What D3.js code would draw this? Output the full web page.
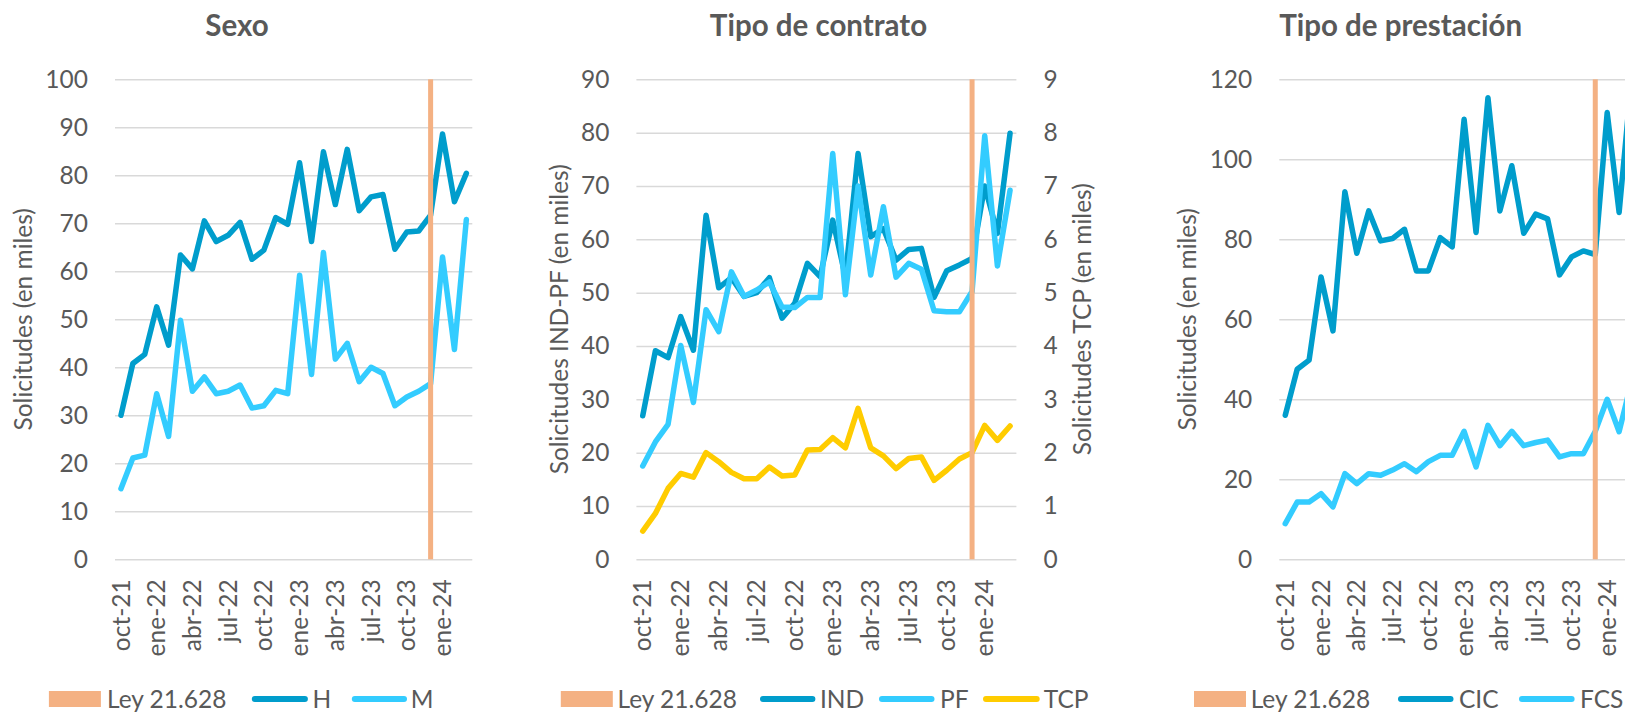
<!DOCTYPE html>
<html>
<head>
<meta charset="utf-8">
<script src="https://cdn.jsdelivr.net/npm/d3@7"></script>
<style>
body { margin: 0; background: #fff; overflow: hidden; }
text { font-family: Lato, 'Open Sans', sans-serif; fill: #595959; }
.tick text { font-size: 24.5px; }
.tick line { stroke: #d9d9d9; stroke-width: 1.5px; }
.axis-label { font-size: 24.5px; }
.title { font-size: 29.5px; font-weight: bold; }
.legend text { font-size: 24.5px; }
</style>
</head>
<body>
<svg width="1625" height="712"></svg>
<script>
const months = ['oct-21','nov-21','dic-21','ene-22','feb-22','mar-22','abr-22','may-22','jun-22','jul-22',
  'ago-22','sep-22','oct-22','nov-22','dic-22','ene-23','feb-23','mar-23','abr-23','may-23',
  'jun-23','jul-23','ago-23','sep-23','oct-23','nov-23','dic-23','ene-24','feb-24','mar-24'];
const tickMonths = ['oct-21','ene-22','abr-22','jul-22','oct-22','ene-23','abr-23','jul-23','oct-23','ene-24'];

// Ley 21.628 column (full height of each panel)
const leyMonth = 'dic-23';
const leyValues = [100, 90, 120];

// Sexo
const H = [30.0,40.8,42.7,52.6,44.6,63.4,60.5,70.5,66.2,67.5,70.2,62.5,64.4,71.2,69.8,82.6,66.2,84.9,73.9,85.4,72.6,75.5,76.0,64.6,68.2,68.4,71.7,88.6,74.5,80.4];
const M = [14.7,21.1,21.7,34.5,25.6,49.8,35.0,38.0,34.5,35.0,36.3,31.5,32.0,35.2,34.5,59.2,38.5,63.9,41.7,45.0,37.0,40.0,38.7,32.0,33.8,35.0,36.6,63.0,43.7,70.8];

// Tipo de contrato
const IND = [26.9,39.1,37.8,45.5,39.2,64.5,50.9,52.8,49.3,50.0,52.8,45.2,48.0,55.5,53.0,63.6,53.0,76.1,60.5,62.0,56.1,58.1,58.3,49.1,54.1,55.2,56.4,70.0,61.1,79.9];
const PF = [17.5,22.0,25.3,40.1,29.4,46.8,42.7,53.9,49.3,50.5,52.0,47.3,47.2,49.1,49.1,76.1,49.6,70.0,53.3,66.1,52.9,55.5,54.4,46.6,46.4,46.4,50.2,79.4,55.0,69.2];
const TCP = [0.53,0.86,1.33,1.61,1.54,2.0,1.83,1.63,1.51,1.51,1.73,1.56,1.58,2.05,2.06,2.28,2.09,2.83,2.09,1.94,1.70,1.89,1.92,1.48,1.67,1.88,2.0,2.51,2.23,2.50];

// Tipo de prestación
const CIC = [36.0,47.5,49.8,70.6,57.1,91.9,76.5,87.1,79.6,80.2,82.5,72.1,72.1,80.4,78.1,110.0,81.7,115.4,87.1,98.4,81.5,86.3,85.1,71.1,75.6,77.1,76.2,111.7,86.7,119];
const FCS = [8.9,14.3,14.3,16.4,13.1,21.4,18.9,21.4,21.0,22.3,23.9,21.9,24.4,26.0,26.0,32.0,23.1,33.5,28.4,32.0,28.4,29.2,29.8,25.6,26.4,26.4,32.0,40.0,31.9,44];

const dark = '#009dcc', light = '#33ccff', yellow = '#ffcc00', orange = '#f4b183';

const svg = d3.select('svg');
const plotTop = 79.3, plotBottom = 559.3;

// legend: [rect x, label x], then per series [swatch start, swatch end, label x]
const panels = [
  { title: 'Sexo', titleX: 237, left: 115, right: 472.3, yMax: 100, yStep: 10,
    yLabel: 'Solicitudes (en miles)', yLabelX: 32, legend: [48.9, 107],
    series: [{ name: 'H', values: H, color: dark, lg: [251.8, 307.9, 312.5] },
             { name: 'M', values: M, color: light, lg: [351.8, 407, 410.7] }] },
  { title: 'Tipo de contrato', titleX: 818.5, left: 636.4, right: 1016.4, yMax: 90, yStep: 10,
    yLabel: 'Solicitudes IND-PF (en miles)', yLabelX: 568, legend: [560.8, 617.5],
    y2Max: 9, y2Label: 'Solicitudes TCP (en miles)', y2LabelX: 1091,
    series: [{ name: 'IND', values: IND, color: dark, lg: [760, 815.4, 820] },
             { name: 'PF', values: PF, color: light, lg: [879, 934.5, 940] },
             { name: 'TCP', values: TCP, color: yellow, secondary: true, lg: [983, 1039.7, 1043.8] }] },
  { title: 'Tipo de prestación', titleX: 1400.6, left: 1279.3, right: 1637, yMax: 120, yStep: 20,
    yLabel: 'Solicitudes (en miles)', yLabelX: 1196, legend: [1194, 1250.7],
    series: [{ name: 'CIC', values: CIC, color: dark, lg: [1398, 1453.5, 1459] },
             { name: 'FCS', values: FCS, color: light, lg: [1519, 1574.6, 1580] }] }
];

panels.forEach((p, pi) => {
  const w = p.right - p.left;
  const h = plotBottom - plotTop;
  const g = svg.append('g').attr('transform', `translate(${p.left},${plotTop})`);
  const x = d3.scaleBand().domain(months).range([0, w]).padding(0);
  const cx = m => x(m) + x.bandwidth() / 2;
  const y = d3.scaleLinear().domain([0, p.yMax]).range([h, 0]);

  const yAxisG = g.append('g')
    .call(d3.axisLeft(y).tickValues(d3.range(0, p.yMax + 0.001, p.yStep)).tickSize(-w).tickPadding(27));
  yAxisG.select('.domain').remove();

  if (p.y2Max) {
    const y2 = d3.scaleLinear().domain([0, p.y2Max]).range([h, 0]);
    const y2G = g.append('g').attr('transform', `translate(${w},0)`)
      .call(d3.axisRight(y2).ticks(9).tickSize(0).tickPadding(27));
    y2G.select('.domain').remove();
    p.y2 = y2;
  }

  const xAxisG = g.append('g').attr('transform', `translate(0,${h})`)
    .call(d3.axisBottom(x).tickValues(tickMonths).tickSize(0));
  xAxisG.select('.domain').remove();
  xAxisG.selectAll('.tick text')
    .attr('transform', 'rotate(-90)')
    .attr('text-anchor', 'end')
    .attr('x', -20)
    .attr('y', 0)
    .attr('dy', '0.35em');

  const line = d3.line().x((d, i) => cx(months[i]));
  p.series.forEach(s => {
    const ys = s.secondary ? p.y2 : y;
    g.append('path')
      .datum(s.values)
      .attr('fill', 'none')
      .attr('stroke', s.color)
      .attr('stroke-width', 5.5)
      .attr('stroke-linejoin', 'round')
      .attr('stroke-linecap', 'round')
      .attr('d', line.y(d => ys(d)));
  });

  g.append('rect')
    .attr('x', cx(leyMonth) - 2.5)
    .attr('width', 5)
    .attr('y', y(leyValues[pi]))
    .attr('height', y(0) - y(leyValues[pi]))
    .attr('fill', orange);

  svg.append('text').attr('class', 'title')
    .attr('x', p.titleX).attr('y', 36).attr('text-anchor', 'middle').text(p.title);

  svg.append('text').attr('class', 'axis-label')
    .attr('transform', `translate(${p.yLabelX},${(plotTop + plotBottom) / 2}) rotate(-90)`)
    .attr('text-anchor', 'middle').text(p.yLabel);
  if (p.y2Label) {
    svg.append('text').attr('class', 'axis-label')
      .attr('transform', `translate(${p.y2LabelX},${(plotTop + plotBottom) / 2}) rotate(-90)`)
      .attr('text-anchor', 'middle').text(p.y2Label);
  }

  // legend
  const lg = svg.append('g').attr('class', 'legend');
  const ly = 699;
  lg.append('rect').attr('x', p.legend[0]).attr('y', ly - 8).attr('width', 52).attr('height', 16).attr('fill', orange);
  lg.append('text').attr('x', p.legend[1]).attr('y', ly).attr('dy', '0.35em').text('Ley 21.628');
  p.series.forEach(s => {
    lg.append('line').attr('x1', s.lg[0] + 3).attr('x2', s.lg[1] - 3).attr('y1', ly).attr('y2', ly)
      .attr('stroke', s.color).attr('stroke-width', 6).attr('stroke-linecap', 'round');
    lg.append('text').attr('x', s.lg[2]).attr('y', ly).attr('dy', '0.35em').text(s.name);
  });
});
</script>
</body>
</html>
